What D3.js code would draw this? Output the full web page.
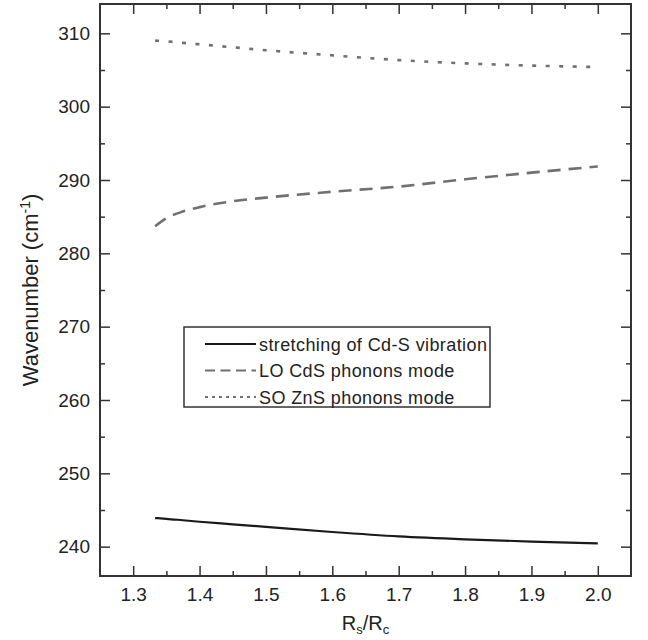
<!DOCTYPE html>
<html>
<head>
<meta charset="utf-8">
<script src="https://cdn.jsdelivr.net/npm/d3@7"></script>
<style>
  body { margin: 0; background: #fff; }
  text { font-family: "Liberation Sans", Arial, sans-serif; fill: #222; }
</style>
</head>
<body>
<svg id="chart" width="648" height="640"></svg>
<script>
// ratio R_s/R_c
const ratio = [1.333, 1.35, 1.375, 1.4, 1.45, 1.5, 1.6, 1.7, 1.8, 1.9, 2.0];
// wavenumbers (cm-1)
const stretchCdS = [243.9, 243.8, 243.6, 243.4, 243.05, 242.7, 242.0, 241.4, 241.0, 240.7, 240.45];
const loCdS      = [283.7, 284.8, 285.7, 286.3, 287.1, 287.6, 288.4, 289.1, 290.1, 291.0, 291.85];
const soZnS      = [309.0, 308.9, 308.7, 308.5, 308.1, 307.7, 307.0, 306.35, 305.9, 305.6, 305.4];
const seriesNames = ["stretching of Cd-S vibration", "LO CdS phonons mode", "SO ZnS phonons mode"];
const xTicks = [1.3, 1.4, 1.5, 1.6, 1.7, 1.8, 1.9, 2.0];
const yTicks = [240, 250, 260, 270, 280, 290, 300, 310];

const svg = d3.select("#chart");
const margin = {left: 100, top: 4, right: 17, bottom: 64};
const width = 648 - margin.left - margin.right,
      height = 640 - margin.top - margin.bottom;

const x = d3.scaleLinear().domain([1.25, 2.05]).range([0, width]);
const y = d3.scaleLinear().domain([236, 314]).range([height, 0]);

const g = svg.append("g").attr("transform", "translate(" + margin.left + "," + margin.top + ")");

const xMinor = d3.range(1.25, 2.06, 0.1).map(v => +v.toFixed(2)).filter(v => v > 1.25 && v < 2.05);
const yMinor = d3.range(245, 314, 10);

// axes, ticks pointing inward on all four sides
function styleAxis(sel) {
  sel.select(".domain").remove();
  sel.selectAll("line").attr("stroke", "#333").attr("stroke-width", 1.5);
  sel.selectAll("text").style("font-size", "19px").attr("fill", "#222");
}

g.append("g").attr("transform", "translate(0," + height + ")")
  .call(d3.axisBottom(x).tickValues(xTicks).tickFormat(d3.format(".1f")).tickSizeInner(-10).tickPadding(11.5))
  .call(styleAxis);
g.append("g").attr("transform", "translate(0," + height + ")")
  .call(d3.axisBottom(x).tickValues(xMinor).tickFormat("").tickSizeInner(-5))
  .call(styleAxis);
g.append("g")
  .call(d3.axisTop(x).tickValues(xTicks).tickFormat("").tickSizeInner(-10))
  .call(styleAxis);
g.append("g")
  .call(d3.axisTop(x).tickValues(xMinor).tickFormat("").tickSizeInner(-5))
  .call(styleAxis);

g.append("g")
  .call(d3.axisLeft(y).tickValues(yTicks).tickSizeInner(-10).tickPadding(10))
  .call(styleAxis);
g.append("g")
  .call(d3.axisLeft(y).tickValues(yMinor).tickFormat("").tickSizeInner(-5))
  .call(styleAxis);
g.append("g").attr("transform", "translate(" + width + ",0)")
  .call(d3.axisRight(y).tickValues(yTicks).tickFormat("").tickSizeInner(-10))
  .call(styleAxis);
g.append("g").attr("transform", "translate(" + width + ",0)")
  .call(d3.axisRight(y).tickValues(yMinor).tickFormat("").tickSizeInner(-5))
  .call(styleAxis);

g.append("rect")
  .attr("width", width).attr("height", height)
  .attr("fill", "none").attr("stroke", "#333").attr("stroke-width", 2);

// curves
const styles = [
  {data: stretchCdS, color: "#1a1a1a", width: 2.2, dash: null},
  {data: loCdS, color: "#707070", width: 2.6, dash: "13,8"},
  {data: soZnS, color: "#707070", width: 2.6, dash: "4,9.5"}
];

const line = d3.line()
  .x((d, i) => x(ratio[i]))
  .y(d => y(d))
  .curve(d3.curveMonotoneX);

styles.forEach(s => {
  g.append("path")
    .datum(s.data)
    .attr("d", line)
    .attr("fill", "none")
    .attr("stroke", s.color)
    .attr("stroke-width", s.width)
    .attr("stroke-dasharray", s.dash);
});

// legend
const legend = svg.append("g").attr("transform", "translate(184,327)");
legend.append("rect")
  .attr("width", 306).attr("height", 80)
  .attr("fill", "#fff").attr("stroke", "#333").attr("stroke-width", 1.5);
seriesNames.forEach((name, i) => {
  const yy = 17 + i * 26.5;
  legend.append("line")
    .attr("x1", 21).attr("x2", 72).attr("y1", yy).attr("y2", yy)
    .attr("stroke", styles[i].color)
    .attr("stroke-width", i === 0 ? 2.2 : 1.8)
    .attr("stroke-dasharray", i === 1 ? "10,5.5" : i === 2 ? "3,4" : null);
  legend.append("text")
    .attr("x", 75).attr("y", yy + 6.5)
    .style("font-size", "18px")
    .style("letter-spacing", "0.4px")
    .text(name);
});

// axis titles
const xt = svg.append("text")
  .attr("x", margin.left + width / 2).attr("y", 630)
  .attr("text-anchor", "middle")
  .style("font-size", "20px");
xt.append("tspan").text("R");
xt.append("tspan").attr("dy", 4).style("font-size", "13px").text("s");
xt.append("tspan").attr("dy", -4).text("/R");
xt.append("tspan").attr("dy", 4).style("font-size", "13px").text("c");

const yt = svg.append("text")
  .attr("transform", "translate(38," + (margin.top + height / 2) + ") rotate(-90)")
  .attr("text-anchor", "middle")
  .style("font-size", "22px");
yt.append("tspan").text("Wavenumber (cm");
yt.append("tspan").attr("dy", -8).style("font-size", "14px").text("-1");
yt.append("tspan").attr("dy", 8).text(")");
</script>
</body>
</html>
